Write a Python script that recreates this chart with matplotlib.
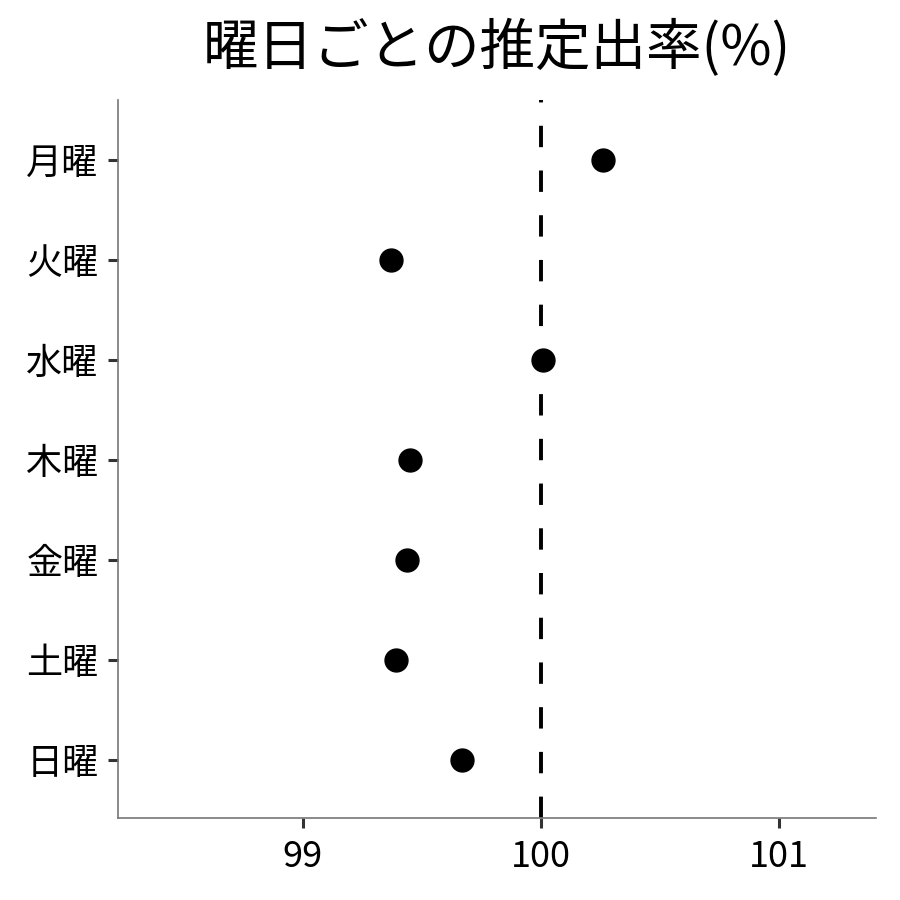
import numpy as np
import matplotlib
matplotlib.use("Agg")
import matplotlib.pyplot as plt

plt.rcParams['font.family'] = ['Noto Sans CJK JP', 'DejaVu Sans']

# data
days = ["月曜", "火曜", "水曜", "木曜", "金曜", "土曜", "日曜"]
rates = [100.26, 99.37, 100.01, 99.45, 99.44, 99.39, 99.67]
xticks = [99, 100, 101]

fig = plt.figure(figsize=(9, 9), dpi=100)
ax = fig.add_axes([0.131, 0.091, 0.842, 0.798])

ypos = np.arange(len(days))[::-1] + 1  # first day on top

ax.axvline(100, color="black", lw=2.8, linestyle=(0, (5.5, 6)), zorder=1)
ax.plot(rates, ypos, "o", color="black", markersize=16.5, zorder=3)

ax.set_xlim(98.223, 101.408)
ax.set_ylim(0.42, 7.6)
ax.set_xticks(xticks)
ax.set_xticklabels([str(v) for v in xticks])
ax.set_yticks(ypos)
ax.set_yticklabels(days)

for side in ["top", "right"]:
    ax.spines[side].set_visible(False)
for side in ["left", "bottom"]:
    ax.spines[side].set_color("#777777")
    ax.spines[side].set_linewidth(1.2)

ax.tick_params(axis="both", length=7, width=2.2, color="#333333",
               labelsize=26, labelcolor="black")
ax.tick_params(axis="y", pad=7)
ax.tick_params(axis="x", pad=8)

fig.suptitle("曜日ごとの推定出率(%)", x=0.552, y=0.978, fontsize=40,
             va="top")

fig.savefig("out.png", dpi=100)
